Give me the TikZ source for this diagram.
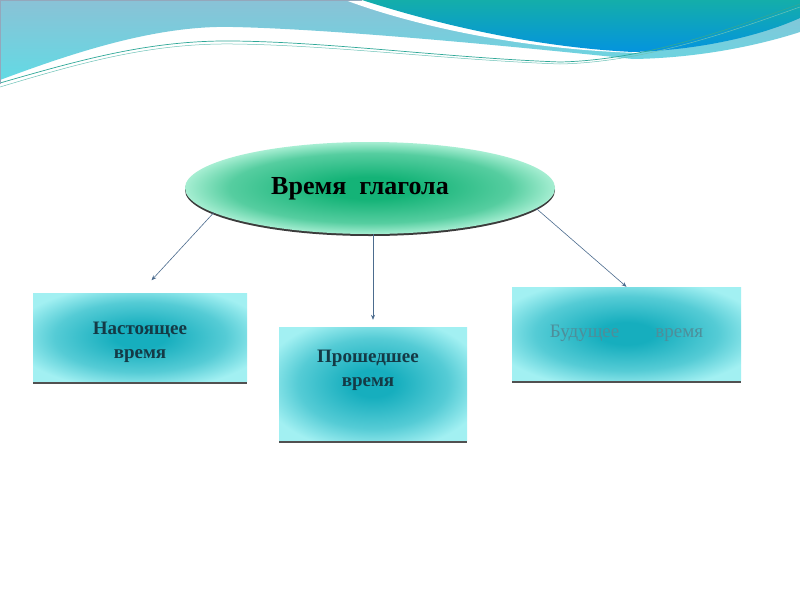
\documentclass[tikz,border=0pt]{standalone}
\usepackage{fontspec}
\setmainfont{Liberation Serif}
\usetikzlibrary{arrows.meta,shadows,shapes.geometric}
\definecolor{skyband}{HTML}{8AC2D6}
\definecolor{skycyan}{HTML}{62DAE4}
\definecolor{seatop}{HTML}{14AEAA}
\definecolor{seabot}{HTML}{0494DE}
\definecolor{waveline}{HTML}{2FA898}
\definecolor{greencore}{HTML}{14B377}
\definecolor{greenrim}{HTML}{A6EED2}
\definecolor{tealcore}{HTML}{16AEBE}
\definecolor{tealrim}{HTML}{A2F0F2}
\definecolor{inkteal}{HTML}{143A46}
\definecolor{fadeteal}{HTML}{4E8E9A}
\definecolor{linkc}{HTML}{4C6C8E}
\pgfdeclareradialshading{tealglow}{\pgfpoint{0bp}{0bp}}{color(0bp)=(tealcore);
  color(6bp)=(tealcore); color(20bp)=(tealcore!55!tealrim); color(30bp)=(tealrim);
  color(50bp)=(tealrim)}
\pgfdeclareradialshading{greenglow}{\pgfpoint{0bp}{0bp}}{color(0bp)=(greencore);
  color(6bp)=(greencore); color(19bp)=(greencore!55!greenrim); color(25bp)=(greenrim);
  color(50bp)=(greenrim)}

\begin{document}
\begin{tikzpicture}[x=1pt,y=-1pt,
  tensebox/.style={rectangle, inner sep=0pt, shade, shading=tealglow,
    drop shadow={shadow xshift=0pt, shadow yshift=-3pt, fill=black!80, opacity=0.85}},
  tenselabel/.style={font=\fontsize{19}{24}\selectfont\bfseries, text=inkteal, align=center},
  link/.style={linkc, line width=0.6pt, -{Stealth[length=5pt,width=4pt]}}]
  \useasboundingbox[fill=white] (0,0) rectangle (800,600);
  % wave at the top
  \shade[top color=skyband, bottom color=skycyan] (0,0) -- (0,80)
    .. controls (80,50) and (160,25) .. (233,27)
    .. controls (330,29) and (500,45) .. (633,59)
    .. controls (700,58) and (760,45) .. (800,32) -- (800,0) -- cycle;
  \fill[white] (345,0) .. controls (420,28) and (530,50) .. (640,53) -- (800,0) -- cycle;
  \shade[top color=seatop, bottom color=seabot] (362,0)
    .. controls (430,22) and (530,47) .. (633,52)
    .. controls (700,50) and (760,36) .. (800,18) -- (800,0) -- cycle;
  \draw[waveline, line width=0.7pt] (0,83) .. controls (80,60) and (150,40) .. (233,41)
    .. controls (330,42) and (450,58) .. (560,62) .. controls (650,60) and (740,25) .. (800,4);
  \draw[waveline!70, line width=0.5pt] (0,87) .. controls (80,63) and (150,43) .. (233,44)
    .. controls (330,45) and (450,60) .. (560,64) .. controls (650,62) and (740,28) .. (800,7);
  \draw[linkc!60, line width=0.8pt] (0,84) -- (0,0.4) -- (362,0.4);
  % the verb and its three tenses
  \node[ellipse, minimum width=370pt, minimum height=92pt, inner sep=0pt,
    shade, shading=greenglow,
    drop shadow={shadow xshift=0pt, shadow yshift=-2pt, fill=black!85, opacity=0.9}]
    (verb) at (370,188) {};
  \node[font=\fontsize{26}{30}\selectfont\bfseries] (verbtext) at (360,189) {Время\ \ глагола};
  \node[tensebox, minimum width=214pt, minimum height=88pt] (present) at (140,337) {};
  \node[tenselabel] (presenttext) at (140,342) {Настоящее\\время};
  \node[tensebox, minimum width=188pt, minimum height=113pt] (past) at (373,383.5) {};
  \node[tenselabel] (pasttext) at (368,370) {Прошедшее\\время};
  \node[tensebox, minimum width=229pt, minimum height=93pt,
    font=\fontsize{19}{24}\selectfont, text=fadeteal] (future) at (626.5,333.5)
    {Будущее\hspace{1.9em}время};
  % connectors
  \draw[link, shorten >=17pt] (verb.189) -- (present.north);
  \draw[link, shorten >=7pt] (past.north |- verb.south) -- (past.north);
  \draw[link] (verb.353) -- (future.north);
\end{tikzpicture}
\end{document}
